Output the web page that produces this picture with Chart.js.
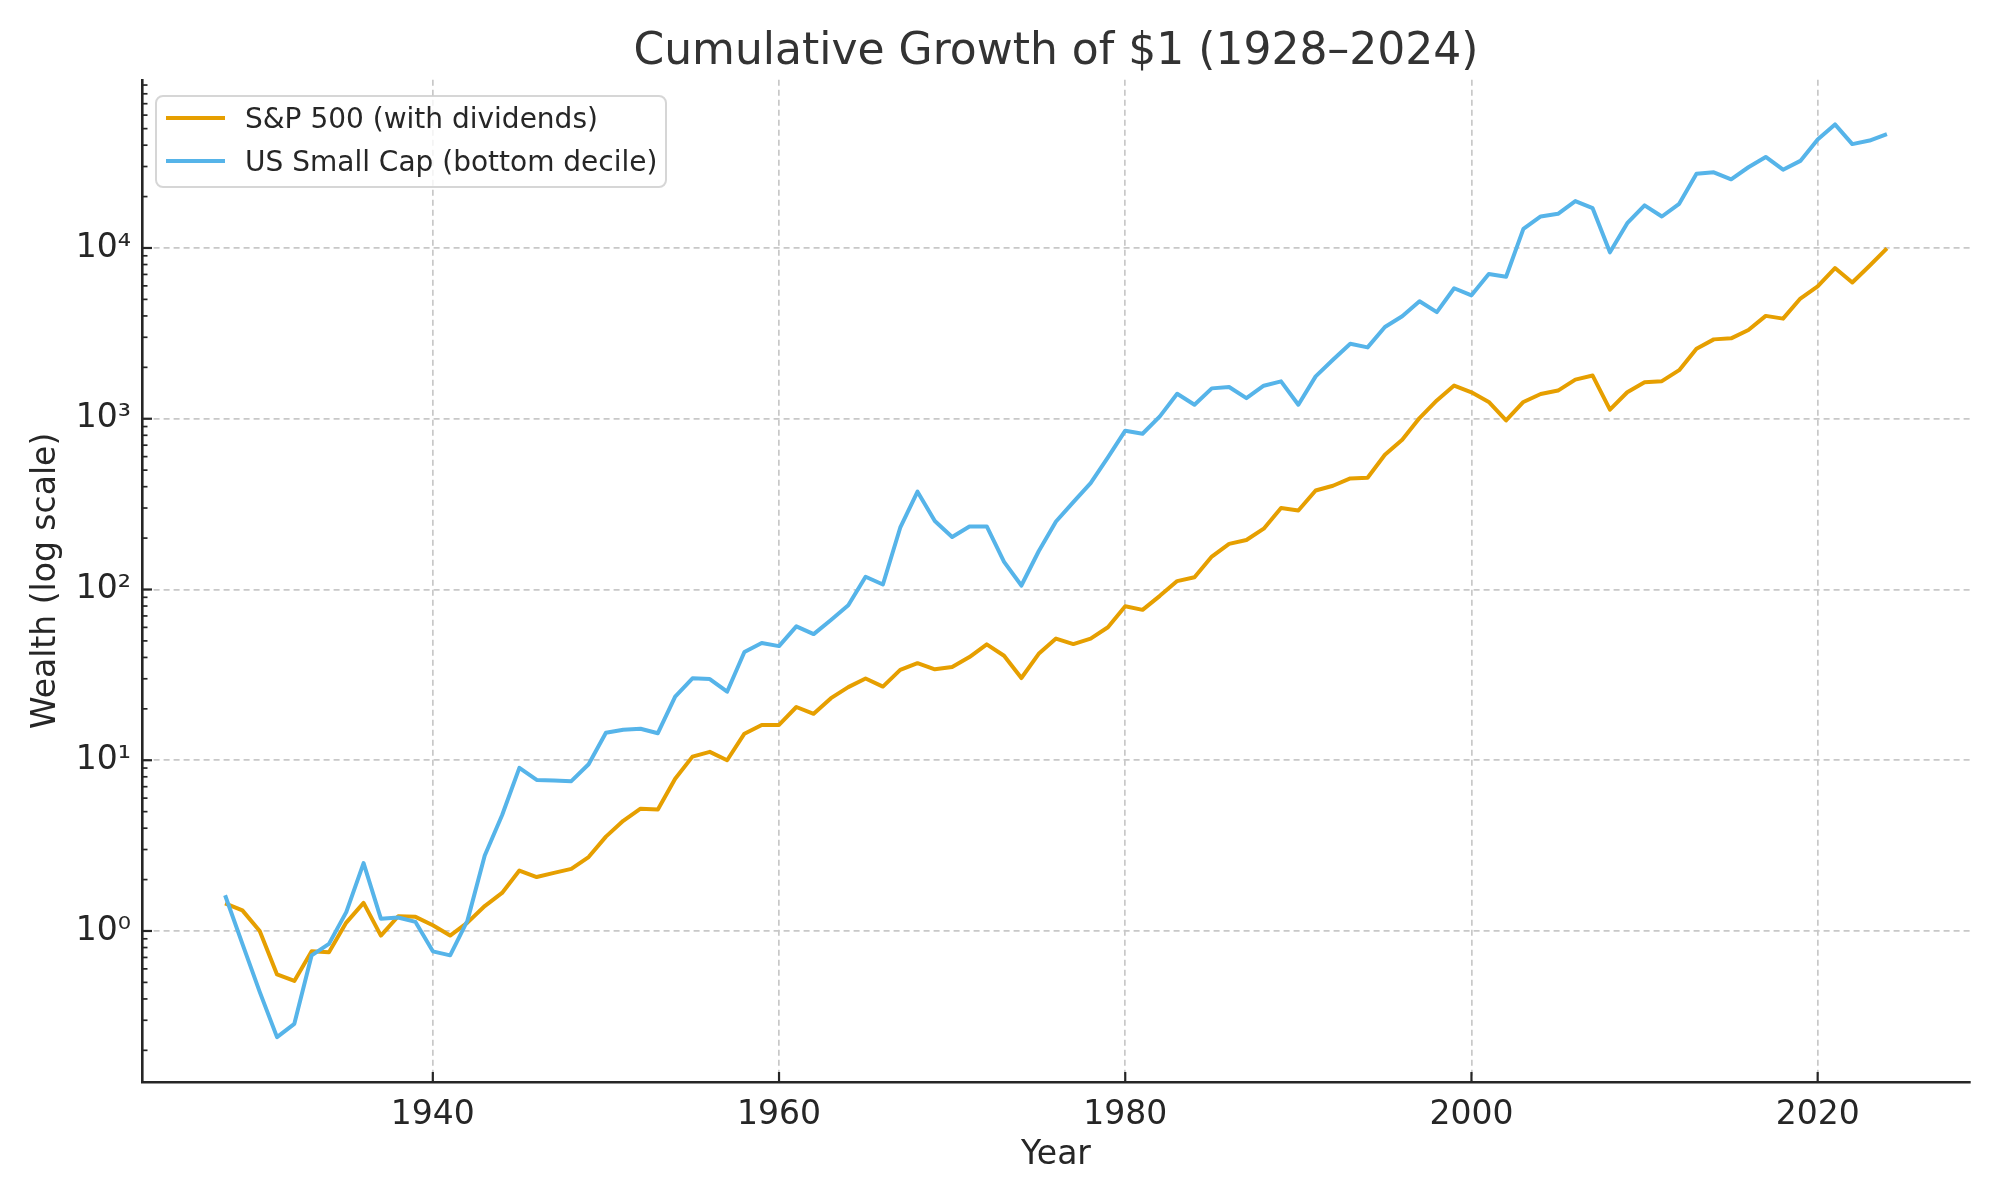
<!DOCTYPE html>
<html>
<head>
<meta charset="utf-8">
<script src="https://cdn.jsdelivr.net/npm/chart.js@4/dist/chart.umd.min.js"></script>
<style>
  html, body { margin: 0; padding: 0; background: #fff; }
  canvas { display: block; }
</style>
</head>
<body>
<canvas id="myChart" width="2000" height="1200"></canvas>
<script>
const years = [];
for (let y = 1928; y <= 2024; y++) years.push(y);

// values, 1928..2024
const sp500 = [
  1.45, 1.32, 1.00, 0.557, 0.51, 0.76, 0.75, 1.12, 1.46, 0.94,
  1.22, 1.21, 1.08, 0.94, 1.12, 1.40, 1.67, 2.26, 2.07, 2.19,
  2.31, 2.71, 3.57, 4.42, 5.20, 5.14, 7.80, 10.5, 11.2, 10.0,
  14.3, 16.1, 16.1, 20.5, 18.7, 23.1, 26.8, 30.1, 27.0, 33.8,
  37.0, 34.1, 35.2, 40.2, 47.7, 40.9, 30.3, 42.0, 51.6, 47.9,
  51.6, 60.1, 79.8, 76.0, 91.8, 112, 118, 156, 185, 195,
  227, 300, 290, 380, 405, 447, 451, 615, 753, 1009,
  1280, 1565, 1428, 1254, 977, 1254, 1397, 1462, 1695, 1790,
  1130, 1429, 1636, 1660, 1925, 2570, 2916, 2957, 3312, 4003,
  3857, 5056, 5954, 7627, 6280, 7870, 9955,
];

const smallCap = [
  1.62, 0.84, 0.44, 0.239, 0.286, 0.72, 0.84, 1.29, 2.50, 1.18,
  1.20, 1.13, 0.76, 0.72, 1.15, 2.77, 4.76, 9.02, 7.67, 7.60,
  7.54, 9.48, 14.5, 15.1, 15.3, 14.4, 23.6, 30.2, 29.9, 25.2,
  43.0, 48.6, 46.6, 60.8, 54.8, 66.3, 80.9, 118.8, 107, 230,
  374, 252, 203, 234, 234, 145, 105.5, 167.5, 250, 325,
  420, 593, 851, 817, 1032, 1400, 1208, 1506, 1534, 1321,
  1561, 1655, 1208, 1771, 2217, 2750, 2618, 3444, 3980, 4873,
  4210, 5810, 5280, 7036, 6781, 12930, 15290, 15850, 18830, 17110,
  9430, 13970, 17750, 15290, 18150, 27230, 27740, 25230, 29700, 34150,
  28750, 32360, 43180, 52940, 40580, 42580, 46430,
];

const xTickValues = [1940, 1960, 1980, 2000, 2020];
const yTickValues = [1, 10, 100, 1000, 10000];
const yTickLabels = ['10⁰', '10¹', '10²', '10³', '10⁴'];

const seriesNames = ['S&P 500 (with dividends)', 'US Small Cap (bottom decile)'];
const seriesColors = ['#E69F00', '#56B4E9'];

const ink = '#262626';
Chart.defaults.font.family = "'DejaVu Sans', sans-serif";
Chart.defaults.color = ink;

const toPoints = (vals) => years.map((y, i) => ({ x: y, y: vals[i] }));

// inward tick marks, matplotlib style
const tickMarks = {
  id: 'tickMarks',
  afterDraw(chart) {
    const ctx = chart.ctx;
    const xs = chart.scales.x;
    const ys = chart.scales.y;
    const area = chart.chartArea;
    ctx.save();
    ctx.strokeStyle = ink;
    // y minor + major
    const lo = Math.floor(Math.log10(ys.min));
    const hi = Math.ceil(Math.log10(ys.max));
    for (let n = lo; n <= hi; n++) {
      for (let m = 1; m <= 9; m++) {
        const v = m * Math.pow(10, n);
        if (v < ys.min || v > ys.max) continue;
        const py = ys.getPixelForValue(v);
        const len = m === 1 ? 10 : 5.5;
        ctx.lineWidth = m === 1 ? 2.2 : 1.7;
        ctx.beginPath();
        ctx.moveTo(area.left, py);
        ctx.lineTo(area.left + len, py);
        ctx.stroke();
      }
    }
    ctx.lineWidth = 2.2;
    xTickValues.forEach((v) => {
      const px = xs.getPixelForValue(v);
      ctx.beginPath();
      ctx.moveTo(px, area.bottom);
      ctx.lineTo(px, area.bottom - 10);
      ctx.stroke();
    });
    ctx.restore();
  },
};

// legend box in the upper left of the plot
const boxLegend = {
  id: 'boxLegend',
  afterDraw(chart) {
    const ctx = chart.ctx;
    const bx = 156, by = 96, bw = 510, bh = 91, r = 7;
    ctx.save();
    ctx.beginPath();
    ctx.moveTo(bx + r, by);
    ctx.arcTo(bx + bw, by, bx + bw, by + bh, r);
    ctx.arcTo(bx + bw, by + bh, bx, by + bh, r);
    ctx.arcTo(bx, by + bh, bx, by, r);
    ctx.arcTo(bx, by, bx + bw, by, r);
    ctx.closePath();
    ctx.fillStyle = 'rgba(255,255,255,0.8)';
    ctx.fill();
    ctx.strokeStyle = 'rgba(204,204,204,0.8)';
    ctx.lineWidth = 2;
    ctx.stroke();

    ctx.font = "28px 'DejaVu Sans'";
    ctx.textBaseline = 'middle';
    ctx.textAlign = 'left';
    chart.data.datasets.forEach((ds, i) => {
      const ly = 118 + i * 43;
      ctx.strokeStyle = ds.borderColor;
      ctx.lineWidth = 4;
      ctx.beginPath();
      ctx.moveTo(166, ly);
      ctx.lineTo(225, ly);
      ctx.stroke();
      ctx.fillStyle = ink;
      ctx.fillText(ds.label, 245, ly + 3);
    });
    ctx.restore();
  },
};

const chart = new Chart(document.querySelector('#myChart'), {
  type: 'line',
  data: {
    datasets: [
      {
        label: seriesNames[0],
        data: toPoints(sp500),
        borderColor: seriesColors[0],
        backgroundColor: seriesColors[0],
        borderWidth: 4,
        pointRadius: 0,
        tension: 0,
        borderJoinStyle: 'round',
        order: 2,
      },
      {
        label: seriesNames[1],
        data: toPoints(smallCap),
        borderColor: seriesColors[1],
        backgroundColor: seriesColors[1],
        borderWidth: 4,
        pointRadius: 0,
        tension: 0,
        borderJoinStyle: 'round',
        order: 1,
      },
    ],
  },
  options: {
    responsive: false,
    devicePixelRatio: 1,
    animation: false,
    layout: { padding: { left: 0, right: 30, top: 0, bottom: 0 } },
    plugins: {
      legend: { display: false },
      tooltip: { enabled: false },
      title: {
        display: true,
        fullSize: false,
        text: 'Cumulative Growth of $1 (1928–2024)',
        color: '#333333',
        font: { size: 44, weight: 'normal' },
        padding: { top: 26, bottom: 1 },
      },
    },
    scales: {
      x: {
        type: 'linear',
        min: 1923.2,
        max: 2028.8,
        afterBuildTicks: (s) => { s.ticks = xTickValues.map((v) => ({ value: v })); },
        afterFit: (s) => { s.height = 118; },
        ticks: {
          autoSkip: false,
          maxRotation: 0,
          padding: 14,
          color: ink,
          font: { size: 33 },
          callback: (v) => String(v),
        },
        grid: { color: '#c8c8c8', lineWidth: 1.7, drawTicks: false },
        border: { display: true, color: ink, width: 2.6, dash: [6, 4] },
        title: {
          display: true,
          text: 'Year',
          color: ink,
          font: { size: 33 },
          padding: { top: 0, bottom: 25 },
        },
      },
      y: {
        type: 'logarithmic',
        min: 0.1305,
        max: 96600,
        afterBuildTicks: (s) => { s.ticks = yTickValues.map((v) => ({ value: v })); },
        afterFit: (s) => { s.width = 142; },
        ticks: {
          autoSkip: false,
          padding: 11,
          color: ink,
          font: { size: 33 },
          callback: (v) => {
            const i = yTickValues.indexOf(v);
            return i >= 0 ? yTickLabels[i] : null;
          },
        },
        grid: { color: '#c8c8c8', lineWidth: 1.7, drawTicks: false },
        border: { display: true, color: ink, width: 2.6, dash: [6, 4] },
        title: {
          display: true,
          text: 'Wealth (log scale)',
          color: ink,
          font: { size: 33 },
          padding: { top: 27, bottom: 0 },
        },
      },
    },
  },
  plugins: [tickMarks, boxLegend],
});
</script>
</body>
</html>
